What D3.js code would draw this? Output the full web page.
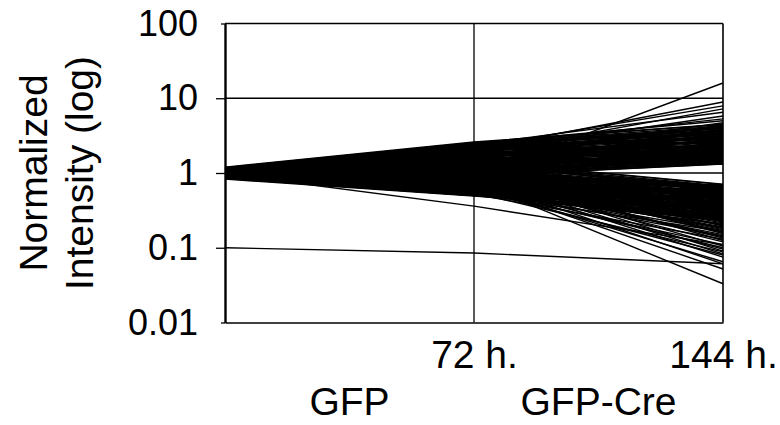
<!DOCTYPE html>
<html>
<head>
<meta charset="utf-8">
<script src="https://cdn.jsdelivr.net/npm/d3@7"></script>
<style>
  html, body { margin: 0; padding: 0; background: #fff; }
  svg { display: block; }
  text { font-family: "Liberation Sans", Arial, Helvetica, sans-serif; fill: #000; }
</style>
</head>
<body>
<svg id="chart" width="780" height="425"></svg>
<script>
// Sampling times (hours) and their axis labels
const hours = [0, 72, 144];
const hourTicks = [72, 144];
const hourLabels = ["72 h.", "144 h."];
const groups = ["GFP", "GFP-Cre"];
const groupSpans = [[0, 72], [72, 144]];

// Log intensity axis
const yTicks = [0.01, 0.1, 1, 10, 100];
const yTickLabels = ["0.01", "0.1", "1", "10", "100"];
const gridValues = [1, 10];

// Genes rising after Cre: normalized intensity at 0 h, 72 h, 144 h
const upAt0 = [1.00, 1.06, 1.10, 1.03, 1.14, 1.05, 1.08, 1.16, 1.00, 1.20,
               1.02, 1.09, 0.97, 1.12, 1.04, 0.95, 1.15, 1.01, 1.07, 0.98,
               1.11, 1.03, 0.94, 1.18, 1.00, 1.06, 0.96, 1.10, 1.02, 1.13,
               0.97, 1.05, 0.92, 1.17, 1.00, 1.08, 0.95, 1.12, 1.03, 1.06,
               1.09, 0.93, 1.04, 0.99, 1.14, 0.90, 1.01,
               1.04, 0.98, 1.12, 1.01, 1.07, 0.96, 1.15, 1.03, 1.09, 0.99,
               1.13, 1.02, 1.06, 0.94, 1.17, 1.00, 1.08, 0.97, 1.11, 1.04,
               1.05, 0.95, 1.14, 1.02, 1.10, 0.99, 1.07, 1.01, 1.16, 0.96,
               1.03, 1.09, 1.00, 1.12, 0.98, 1.06,
               1.15, 1.12, 1.08, 1.13, 1.05, 1.10, 1.02, 1.07, 0.99, 1.04,
               1.11, 0.97, 1.06, 1.01, 0.95, 1.09, 1.03, 0.98, 1.00, 0.93,
               1.05, 0.96, 1.02, 0.91, 0.99, 1.01, 0.94, 0.97, 0.92, 0.95];
const upAt72 = [0.92, 2.05, 2.20, 1.80, 2.40, 1.90, 2.30, 2.50, 1.60, 2.60,
                1.50, 2.20, 1.20, 2.40, 1.70, 1.00, 2.50, 1.40, 2.00, 1.10,
                2.30, 1.60, 0.95, 2.55, 1.30, 1.85, 1.05, 2.10, 1.45, 2.35,
                1.15, 1.75, 0.93, 2.45, 1.25, 1.95, 1.00, 2.15, 1.55, 1.35,
                2.00, 0.97, 1.65, 1.20, 2.25, 0.91, 1.40,
                1.65, 1.05, 2.45, 1.25, 1.95, 0.98, 2.55, 1.45, 2.15, 1.12,
                2.35, 1.35, 1.80, 0.94, 2.50, 1.18, 2.05, 1.02, 2.25, 1.55,
                1.70, 0.96, 2.40, 1.30, 2.10, 1.08, 1.90, 1.22, 2.50, 1.00,
                1.50, 2.00, 1.10, 2.30, 0.99, 1.60,
                2.55, 2.45, 2.36, 2.28, 2.20, 2.12, 2.04, 1.97, 1.90, 1.83,
                1.76, 1.70, 1.64, 1.58, 1.52, 1.47, 1.42, 1.37, 1.32, 1.27,
                1.23, 1.18, 1.14, 1.10, 1.06, 1.03, 0.99, 0.96, 0.94, 0.92];
const upAt144 = [16.0, 8.9, 7.9, 7.2, 6.5, 5.8, 5.3, 5.0, 4.7, 4.5,
                 4.3, 4.1, 3.9, 3.75, 3.6, 3.45, 3.3, 3.2, 3.05, 2.95,
                 2.85, 2.75, 2.65, 2.55, 2.45, 2.35, 2.28, 2.2, 2.12, 2.05,
                 1.98, 1.92, 1.86, 1.80, 1.74, 1.68, 1.63, 1.58, 1.54, 1.50,
                 1.46, 1.43, 1.40, 1.37, 1.35, 1.32, 1.34,
                 4.4, 4.2, 4.0, 3.85, 3.7, 3.55, 3.4, 3.25, 3.1, 3.0,
                 2.9, 2.8, 2.7, 2.6, 2.5, 2.4, 2.32, 2.24, 2.16, 2.08,
                 2.01, 1.95, 1.89, 1.83, 1.77, 1.71, 1.66, 1.61, 1.56, 1.52,
                 1.48, 1.45, 1.42, 1.39, 1.36, 1.33,
                 4.45, 4.27, 4.10, 3.93, 3.77, 3.62, 3.47, 3.33, 3.19, 3.06,
                 2.94, 2.82, 2.70, 2.59, 2.48, 2.38, 2.28, 2.19, 2.10, 2.01,
                 1.93, 1.85, 1.77, 1.70, 1.63, 1.56, 1.50, 1.44, 1.38, 1.33];

// Genes falling after Cre: normalized intensity at 0 h, 72 h, 144 h
const downAt0 = [1.00, 0.98, 1.00, 0.97, 1.02, 0.95, 1.00, 0.98, 0.90, 1.05,
                 0.99, 0.92, 1.03, 0.88, 1.01, 1.00, 0.86, 1.02, 0.94, 1.04,
                 0.91, 1.00, 0.96, 0.99, 0.89, 1.03, 0.93, 1.00, 1.02, 0.90,
                 0.97, 0.83, 1.04, 0.99, 0.92, 1.01, 0.87, 1.03, 0.95, 0.98,
                 0.85, 1.02, 0.91, 0.99, 0.88, 1.05, 1.00, 0.93, 1.02, 0.86,
                 0.98, 1.03, 0.92, 1.01, 0.96, 1.04, 0.89, 1.00, 1.02, 0.97,
                 1.01, 0.94,
                 0.99, 0.91, 1.03, 0.87, 1.00, 0.95, 1.02, 0.89, 0.97, 1.04,
                 0.92, 1.01, 0.86, 0.98, 1.03, 0.90, 1.00, 0.94, 1.02, 0.88,
                 0.96, 1.05, 0.93, 0.99, 0.85, 1.01, 0.97, 1.03, 0.91, 1.00,
                 0.95, 1.02, 0.88, 0.98, 1.04, 0.92, 1.00, 0.96, 1.01, 0.94,
                 1.03, 0.99, 1.05, 0.96, 1.01, 0.93, 1.04, 0.98, 0.90, 1.02,
                 0.95, 1.00, 0.88, 0.97, 1.03, 0.92, 0.99, 0.86, 1.01, 0.94,
                 0.97, 0.89, 1.00, 0.91, 0.95, 0.87, 0.98, 0.84, 0.93, 0.90,
                 0.10];
const downAt72 = [0.76, 0.72, 0.80, 0.66, 0.85, 0.60, 0.90, 0.36, 0.55, 1.00,
                  0.70, 0.62, 0.95, 0.58, 0.78, 1.10, 0.52, 0.88, 0.68, 1.20,
                  0.64, 0.82, 0.74, 0.92, 0.56, 1.05, 0.70, 0.86, 1.30, 0.60,
                  0.76, 0.49, 1.15, 0.84, 0.66, 0.96, 0.54, 1.25, 0.72, 0.90,
                  0.50, 1.08, 0.62, 0.80, 0.58, 1.40, 0.94, 0.68, 1.18, 0.52,
                  0.86, 1.02, 0.64, 1.35, 0.75, 1.12, 0.56, 0.98, 1.28, 0.82,
                  1.45, 0.70,
                  0.88, 0.60, 1.10, 0.53, 0.80, 0.70, 1.22, 0.57, 0.78, 1.32,
                  0.63, 0.92, 0.51, 0.84, 1.15, 0.59, 0.96, 0.67, 1.06, 0.55,
                  0.74, 1.38, 0.65, 0.90, 0.50, 1.00, 0.72, 1.24, 0.61, 0.86,
                  0.69, 1.12, 0.57, 0.82, 1.42, 0.63, 0.94, 0.76, 1.04, 0.66,
                  1.42, 1.37, 1.32, 1.27, 1.22, 1.18, 1.14, 1.10, 1.06, 1.02,
                  0.98, 0.95, 0.91, 0.88, 0.85, 0.82, 0.79, 0.76, 0.73, 0.71,
                  0.68, 0.66, 0.63, 0.61, 0.59, 0.57, 0.55, 0.53, 0.51, 0.50,
                  0.085];
const downAt144 = [0.033, 0.052, 0.061, 0.065, 0.075, 0.080, 0.083, 0.11, 0.088, 0.090,
                   0.096, 0.10, 0.105, 0.11, 0.12, 0.125, 0.13, 0.14, 0.15, 0.16,
                   0.17, 0.18, 0.19, 0.20, 0.21, 0.22, 0.23, 0.24, 0.25, 0.26,
                   0.27, 0.28, 0.29, 0.30, 0.31, 0.32, 0.33, 0.34, 0.35, 0.36,
                   0.37, 0.38, 0.40, 0.41, 0.42, 0.43, 0.45, 0.46, 0.48, 0.49,
                   0.51, 0.53, 0.55, 0.57, 0.58, 0.60, 0.62, 0.64, 0.66, 0.68,
                   0.71, 0.70,
                   0.135, 0.145, 0.155, 0.165, 0.175, 0.185, 0.195, 0.205, 0.215, 0.225,
                   0.235, 0.245, 0.255, 0.265, 0.275, 0.285, 0.295, 0.305, 0.315, 0.325,
                   0.335, 0.345, 0.355, 0.365, 0.39, 0.405, 0.415, 0.44, 0.455, 0.47,
                   0.50, 0.52, 0.54, 0.56, 0.59, 0.61, 0.63, 0.65, 0.67, 0.69,
                   0.70, 0.67, 0.64, 0.62, 0.59, 0.57, 0.545, 0.52, 0.50, 0.48,
                   0.46, 0.44, 0.425, 0.41, 0.39, 0.375, 0.36, 0.345, 0.33, 0.32,
                   0.305, 0.295, 0.285, 0.275, 0.265, 0.255, 0.245, 0.24, 0.235, 0.23,
                   0.061];

const svg = d3.select("#chart");

const x = d3.scaleLinear().domain([0, 144]).range([225, 723]);
const y = d3.scaleLog().domain([0.01, 100]).range([322.5, 23.5]);

// Horizontal grid lines
svg.append("g")
  .selectAll("line")
  .data(gridValues)
  .join("line")
  .attr("x1", x(0)).attr("x2", x(144))
  .attr("y1", d => y(d)).attr("y2", d => y(d))
  .attr("stroke", "#000").attr("stroke-width", 1.3);

// Vertical line at 72 h
svg.append("line")
  .attr("x1", x(72)).attr("x2", x(72))
  .attr("y1", y(100)).attr("y2", y(0.01))
  .attr("stroke", "#000").attr("stroke-width", 1.3);

// Expression profiles
const profiles = upAt0.map((v, i) => [v, upAt72[i], upAt144[i]])
  .concat(downAt0.map((v, i) => [v, downAt72[i], downAt144[i]]));

const line = d3.line()
  .x((d, i) => x(hours[i]))
  .y(d => y(d));

svg.append("g")
  .selectAll("path")
  .data(profiles)
  .join("path")
  .attr("d", line)
  .attr("fill", "none")
  .attr("stroke", "#000")
  .attr("stroke-width", 1.4);

// Frame: top and right edges
svg.append("line")
  .attr("x1", x(0)).attr("x2", x(144))
  .attr("y1", y(100)).attr("y2", y(100))
  .attr("stroke", "#000").attr("stroke-width", 1.4);
svg.append("line")
  .attr("x1", x(144)).attr("x2", x(144))
  .attr("y1", y(100)).attr("y2", y(0.01))
  .attr("stroke", "#000").attr("stroke-width", 1.6);

// X axis (bottom edge) with time labels
const xAxis = d3.axisBottom(x)
  .tickValues(hourTicks)
  .tickFormat((d, i) => hourLabels[i])
  .tickSize(0)
  .tickSizeOuter(0)
  .tickPadding(18);
const gx = svg.append("g")
  .attr("transform", `translate(0,${y(0.01)})`)
  .call(xAxis);
gx.select(".domain").attr("stroke", "#000").attr("stroke-width", 1.4);
gx.selectAll("text").attr("font-size", 39).attr("fill", "#000");

// Y axis
const yAxis = d3.axisLeft(y)
  .tickValues(yTicks)
  .tickFormat((d, i) => yTickLabels[i])
  .tickSize(9)
  .tickSizeOuter(0)
  .tickPadding(18);
const gy = svg.append("g")
  .attr("transform", `translate(${x(0)},0)`)
  .call(yAxis);
gy.select(".domain").attr("stroke", "#000").attr("stroke-width", 2.4);
gy.selectAll(".tick line")
  .attr("stroke", "#000").attr("stroke-width", 1.3)
  .attr("x2", d => (d === 100 || d === 0.01) ? -4 : -9);
gy.selectAll("text").attr("font-size", 36).attr("fill", "#000");

// Group labels under the time axis
svg.append("g")
  .selectAll("text")
  .data(groups)
  .join("text")
  .attr("x", (d, i) => x((groupSpans[i][0] + groupSpans[i][1]) / 2))
  .attr("y", 415)
  .attr("text-anchor", "middle")
  .attr("font-size", 39)
  .text(d => d);

// Y axis title
const midY = (y(100) + y(0.01)) / 2;
svg.append("text")
  .attr("transform", `translate(47,${midY}) rotate(-90)`)
  .attr("text-anchor", "middle")
  .attr("font-size", 39)
  .text("Normalized");
svg.append("text")
  .attr("transform", `translate(93,${midY}) rotate(-90)`)
  .attr("text-anchor", "middle")
  .attr("font-size", 39)
  .text("Intensity (log)");
</script>
</body>
</html>
